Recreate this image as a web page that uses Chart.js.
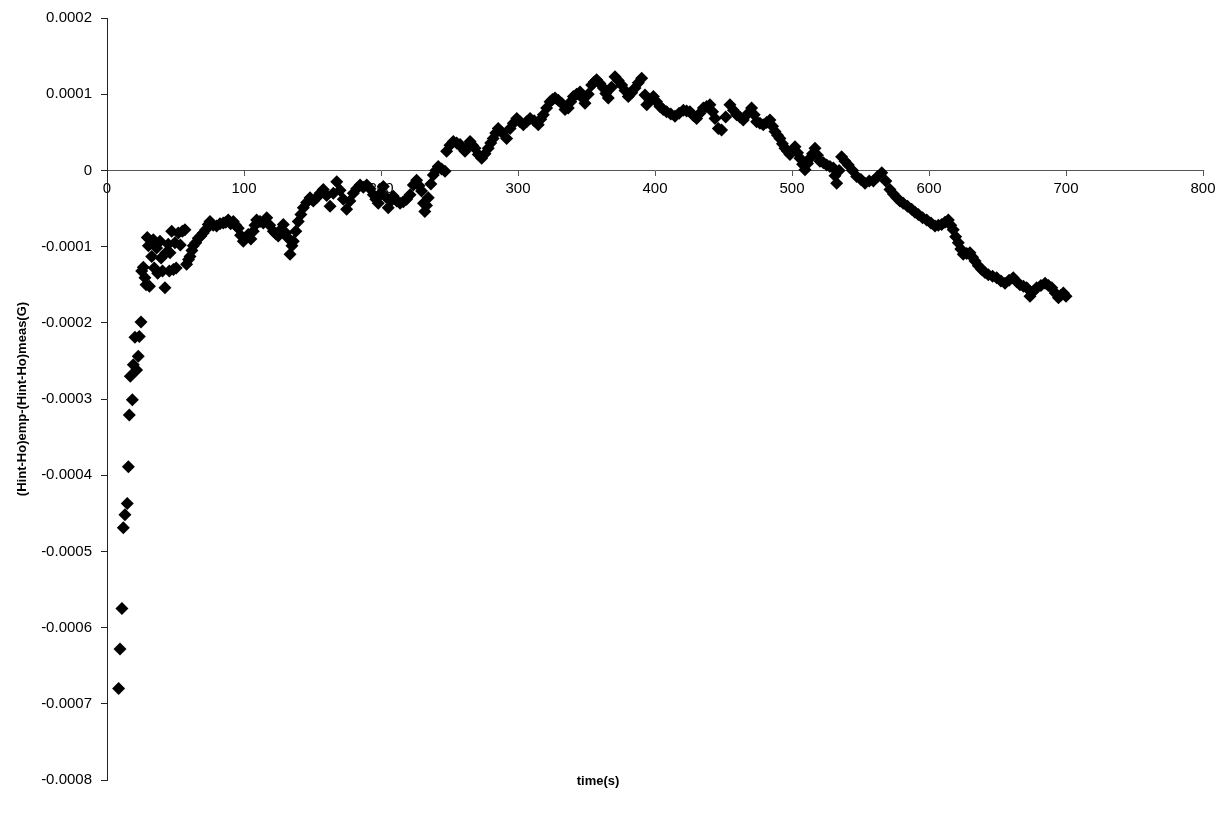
<!DOCTYPE html>
<html>
<head>
<meta charset="utf-8">
<title>Field difference vs time</title>
<script src="https://cdn.jsdelivr.net/npm/chart.js@4.4.1/dist/chart.umd.min.js"></script>
<style>
  html, body { margin: 0; padding: 0; background: #fff; }
  #wrap { width: 1230px; height: 817px; }
</style>
</head>
<body>
<div id="wrap"><canvas id="chart" width="1230" height="817"></canvas></div>
<script>
// time in seconds
const timeS = [
  8.5, 9.5, 10.9, 11.9, 13.1, 14.8, 15.6, 16.3, 17.0, 18.5, 19.2, 20.4, 21.6, 22.8, 23.6, 24.8,
  25.3, 26.5, 27.7, 28.5, 29.4, 30.2, 31.0, 32.6, 33.8, 34.5, 36.2, 37.0, 38.7, 39.5, 40.5, 42.3,
  43.0, 44.7, 45.5, 46.0, 47.2, 48.5, 49.6, 50.5, 52.0, 53.5, 55.0, 56.9, 58.1, 59.5, 60.6, 62.0,
  63.0, 64.8, 66.6, 68.5, 70.2, 72.0, 73.9, 75.2, 77.5, 80.0, 82.5, 84.9, 86.7, 88.5, 90.3, 92.2,
  94.0, 95.8, 97.5, 99.5, 101.2, 103.1, 105.0, 106.8, 108.0, 109.2, 111.7, 114.1, 116.6, 118.8, 121.4, 123.2,
  125.0, 126.8, 128.7, 130.5, 132.3, 133.6, 135.0, 136.0, 137.8, 139.6, 141.5, 143.3, 145.7, 148.2, 150.6, 153.0,
  155.5, 157.9, 160.3, 162.8, 165.2, 167.7, 170.1, 172.5, 174.9, 177.3, 179.8, 182.2, 184.7, 187.1, 189.6, 192.0,
  194.4, 196.2, 198.0, 199.8, 201.7, 203.5, 205.3, 207.2, 209.0, 211.5, 213.9, 216.3, 218.7, 221.2, 223.6, 226.0,
  227.8, 229.6, 231.0, 232.0, 233.2, 234.5, 236.4, 238.2, 240.0, 241.8, 244.2, 246.7, 247.9, 250.3, 252.8, 255.2,
  257.7, 259.5, 261.3, 263.2, 265.0, 266.8, 268.6, 271.0, 273.5, 275.9, 278.3, 280.1, 281.9, 283.7, 285.6, 288.6,
  291.7, 294.2, 296.6, 299.1, 301.5, 303.9, 306.3, 308.8, 311.8, 314.8, 316.6, 318.5, 320.9, 323.4, 325.2, 327.0,
  329.4, 331.9, 334.3, 336.7, 338.5, 340.4, 342.8, 345.3, 347.1, 348.9, 351.3, 353.8, 355.6, 357.4, 359.8, 362.3,
  364.1, 365.9, 368.3, 370.8, 373.2, 375.7, 378.1, 380.5, 383.0, 385.4, 387.8, 390.3, 392.7, 394.0, 396.4, 398.8,
  401.2, 403.6, 406.0, 408.5, 411.5, 414.6, 417.6, 420.7, 423.1, 425.5, 428.0, 430.4, 432.8, 435.3, 437.7, 440.1,
  442.0, 443.8, 446.2, 448.6, 451.6, 454.7, 457.2, 459.6, 462.0, 464.4, 467.5, 470.5, 472.4, 474.2, 476.6, 479.0,
  481.5, 483.9, 485.8, 487.6, 489.4, 491.2, 493.0, 494.9, 496.7, 498.5, 500.4, 502.2, 504.0, 505.8, 507.7, 509.5,
  511.3, 513.1, 515.0, 516.8, 518.6, 520.4, 522.9, 525.3, 527.7, 530.2, 531.4, 532.6, 534.4, 536.2, 538.7, 541.1,
  544.2, 547.2, 550.3, 553.3, 556.4, 559.4, 562.5, 565.5, 568.5, 571.5, 574.0, 576.4, 578.8, 581.2, 584.3, 587.3,
  589.8, 592.2, 595.3, 598.3, 601.4, 604.4, 606.8, 609.2, 611.7, 614.1, 615.9, 617.7, 619.5, 621.4, 623.2, 625.0,
  627.5, 629.9, 631.8, 633.6, 636.0, 638.4, 640.9, 643.3, 646.4, 649.4, 652.5, 655.5, 658.5, 661.5, 664.0, 666.4,
  668.9, 671.3, 673.7, 676.2, 678.6, 681.7, 684.7, 687.2, 689.6, 692.1, 694.5, 696.3, 698.1, 700.0
];

// (Hint-Ho)emp - (Hint-Ho)meas in gauss
const deltaH = [
  -0.000680, -0.000628, -0.000575, -0.000469, -0.000452, -0.000437, -0.000389, -0.000321, -0.000270, -0.000301, -0.000255, -0.000219, -0.000262, -0.000244, -0.000218, -0.000199,
  -0.000132, -0.000127, -0.000141, -0.000150, -0.000088, -0.000099, -0.000152, -0.000113, -0.000091, -0.000128, -0.000102, -0.000135, -0.000093, -0.000115, -0.000132, -0.000154,
  -0.000108, -0.000097, -0.000132, -0.000108, -0.000080, -0.000130, -0.000095, -0.000128, -0.000082, -0.000098, -0.000080, -0.000078, -0.000123, -0.000117, -0.000113, -0.000105,
  -0.000099, -0.000095, -0.000089, -0.000086, -0.000082, -0.000078, -0.000071, -0.000067, -0.000072, -0.000073, -0.000070, -0.000069, -0.000068, -0.000065, -0.000070, -0.000067,
  -0.000072, -0.000076, -0.000085, -0.000093, -0.000088, -0.000084, -0.000090, -0.000080, -0.000072, -0.000065, -0.000067, -0.000069, -0.000062, -0.000072, -0.000080, -0.000083,
  -0.000086, -0.000078, -0.000071, -0.000082, -0.000089, -0.000110, -0.000099, -0.000093, -0.000080, -0.000067, -0.000058, -0.000049, -0.000042, -0.000036, -0.000040, -0.000036,
  -0.000030, -0.000025, -0.000033, -0.000047, -0.000030, -0.000015, -0.000026, -0.000038, -0.000051, -0.000040, -0.000030, -0.000024, -0.000019, -0.000022, -0.000019, -0.000024,
  -0.000032, -0.000038, -0.000043, -0.000030, -0.000021, -0.000035, -0.000049, -0.000040, -0.000034, -0.000040, -0.000043, -0.000041, -0.000038, -0.000032, -0.000019, -0.000013,
  -0.000020, -0.000027, -0.000043, -0.000054, -0.000046, -0.000036, -0.000018, -0.000006, 0.000000, 0.000005, 0.000002, -0.000001, 0.000025, 0.000033, 0.000038, 0.000036,
  0.000034, 0.000029, 0.000025, 0.000031, 0.000038, 0.000033, 0.000029, 0.000021, 0.000016, 0.000022, 0.000029, 0.000036, 0.000042, 0.000049, 0.000055, 0.000049,
  0.000042, 0.000055, 0.000062, 0.000068, 0.000064, 0.000060, 0.000064, 0.000068, 0.000065, 0.000060, 0.000067, 0.000073, 0.000082, 0.000090, 0.000093, 0.000095,
  0.000092, 0.000088, 0.000080, 0.000082, 0.000090, 0.000097, 0.000100, 0.000103, 0.000095, 0.000088, 0.000100, 0.000112, 0.000116, 0.000119, 0.000114, 0.000108,
  0.000101, 0.000095, 0.000109, 0.000123, 0.000118, 0.000112, 0.000105, 0.000097, 0.000102, 0.000108, 0.000115, 0.000121, 0.000099, 0.000086, 0.000092, 0.000097,
  0.000090, 0.000084, 0.000080, 0.000077, 0.000074, 0.000071, 0.000075, 0.000079, 0.000078, 0.000077, 0.000072, 0.000068, 0.000075, 0.000082, 0.000084, 0.000086,
  0.000077, 0.000068, 0.000055, 0.000053, 0.000070, 0.000086, 0.000079, 0.000073, 0.000070, 0.000066, 0.000074, 0.000082, 0.000073, 0.000064, 0.000062, 0.000060,
  0.000063, 0.000066, 0.000058, 0.000051, 0.000046, 0.000042, 0.000035, 0.000029, 0.000025, 0.000021, 0.000026, 0.000031, 0.000023, 0.000016, 0.000008, 0.000001,
  0.000009, 0.000016, 0.000022, 0.000029, 0.000020, 0.000012, 0.000010, 0.000007, 0.000005, 0.000003, -0.000007, -0.000017, 0.000000, 0.000018, 0.000012, 0.000007,
  0.000000, -0.000008, -0.000012, -0.000017, -0.000014, -0.000014, -0.000008, -0.000003, -0.000014, -0.000025, -0.000031, -0.000036, -0.000040, -0.000043, -0.000047, -0.000051,
  -0.000055, -0.000058, -0.000062, -0.000065, -0.000069, -0.000073, -0.000072, -0.000071, -0.000068, -0.000065, -0.000072, -0.000078, -0.000087, -0.000095, -0.000103, -0.000110,
  -0.000109, -0.000108, -0.000114, -0.000119, -0.000125, -0.000130, -0.000134, -0.000137, -0.000139, -0.000141, -0.000145, -0.000148, -0.000144, -0.000141, -0.000146, -0.000150,
  -0.000152, -0.000154, -0.000165, -0.000159, -0.000154, -0.000151, -0.000148, -0.000151, -0.000154, -0.000161, -0.000167, -0.000164, -0.000161, -0.000165
];

const xTickValues = [0, 100, 200, 300, 400, 500, 600, 700, 800];
const yTickValues = [0.0002, 0.0001, 0, -0.0001, -0.0002, -0.0003, -0.0004, -0.0005, -0.0006, -0.0007, -0.0008];

const xTitle = 'time(s)';
const yTitle = '(Hint-Ho)emp-(Hint-Ho)meas(G)';

const points = timeS.map((t, i) => ({ x: t, y: deltaH[i] }));

const tickFont = { family: "'Liberation Sans', Arial, sans-serif", size: 15 };

// axis titles sit where the original put them, not next to the axes
const axisTitles = {
  id: 'axisTitles',
  afterDraw(chart) {
    const { ctx, chartArea } = chart;
    ctx.save();
    ctx.fillStyle = '#000';
    ctx.font = "bold 13px 'Liberation Sans', Arial, sans-serif";
    ctx.textAlign = 'center';
    ctx.textBaseline = 'middle';
    ctx.fillText(xTitle, 598, 781);
    ctx.translate(22, (chartArea.top + chartArea.bottom) / 2);
    ctx.rotate(-Math.PI / 2);
    ctx.fillText(yTitle, 0, 0);
    ctx.restore();
  }
};

new Chart(document.getElementById('chart'), {
  type: 'scatter',
  data: {
    datasets: [{
      data: points,
      pointStyle: 'rectRot',
      pointRadius: 6.5,
      pointBackgroundColor: '#000',
      pointBorderColor: '#000',
      pointBorderWidth: 0,
      showLine: false
    }]
  },
  options: {
    responsive: false,
    animation: false,
    devicePixelRatio: 1,
    layout: { padding: { top: 16, right: 27, bottom: 37, left: 0 } },
    plugins: {
      legend: { display: false },
      tooltip: { enabled: false }
    },
    scales: {
      x: {
        type: 'linear',
        position: { y: 0 },
        min: 0,
        max: 800,
        afterBuildTicks: (scale) => { scale.ticks = xTickValues.map(v => ({ value: v })); },
        ticks: { color: '#000', font: tickFont, padding: 4, maxRotation: 0 },
        grid: { drawOnChartArea: false, drawTicks: true, tickLength: 5, color: '#555' },
        border: { display: true, color: '#555', width: 1 }
      },
      y: {
        type: 'linear',
        position: 'left',
        min: -0.0008,
        max: 0.0002,
        afterBuildTicks: (scale) => { scale.ticks = yTickValues.map(v => ({ value: v })); },
        afterFit: (scale) => { scale.width = 107; },
        ticks: {
          color: '#000',
          font: tickFont,
          padding: 9,
          callback: (v) => (v === 0 ? '0' : Number(v).toFixed(4))
        },
        grid: { drawOnChartArea: false, drawTicks: true, tickLength: 6, color: '#222' },
        border: { display: true, color: '#222', width: 1 }
      }
    }
  },
  plugins: [axisTitles]
});
</script>
</body>
</html>
